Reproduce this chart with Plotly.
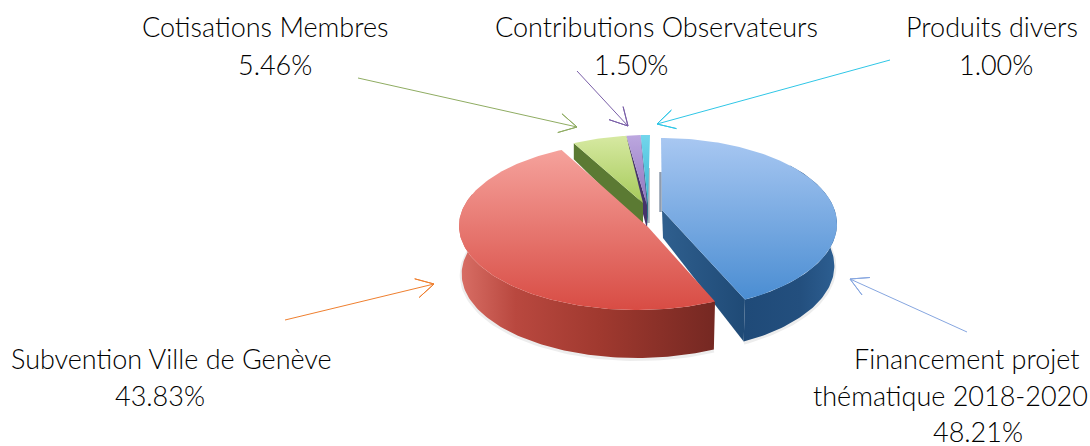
import numpy as np
import plotly.graph_objects as go

# ---- data ----
categories = ["Financement projet thématique 2018-2020", "Subvention Ville de Genève",
              "Cotisations Membres", "Contributions Observateurs", "Produits divers"]
values = [48.21, 43.83, 5.46, 1.50, 1.00]

# ---- geometry / style (per slice: ellipse centre, radii, tip, warp, depth) ----
GEO = {
    0: dict(cx=661, cy=224, a=176, b=86, tip=(662, 210), warp=21.0, depth=42),
    1: dict(cx=637, cy=226, a=178, b=84, tip=(648, 227), warp=18.5, depth=48),
    2: dict(cx=650, cy=222, a=180, b=87, tip=(643, 203), warp=18.5, depth=16),
    3: dict(cx=650, cy=222, a=180, b=87, tip=(647, 205), warp=18.5, depth=16),
    4: dict(cx=650, cy=222, a=180, b=87, tip=(648, 203), warp=18.5, depth=16),
}
TOP = {
    0: ["#a9c8f2", "#4a8dd2"], 1: ["#f6a49e", "#d84c44"], 2: ["#d8eaa4", "#a6ca5a"],
    3: ["#bda8e0", "#8f74bd"], 4: ["#74d6ec", "#38b6d2"],
}


def warp(t, amount):
    r = np.radians(t)
    return t - amount * (1 - np.cos(r)) / 2 - 9.9 * np.sin(r)


def rim(i, t):
    g = GEO[i]
    u = np.radians(warp(t, g["warp"]))
    return g["cx"] + g["a"] * np.sin(u), g["cy"] - g["b"] * np.cos(u)


def drop(i, x, y):
    g = GEO[i]
    return g["cx"] + (x - g["cx"]) * 0.985, y + g["depth"]


fig = go.Figure()


def poly(xs, ys, fillcolor=None, grad=None):
    kw = dict(x=list(xs), y=list(ys), mode="lines", fill="toself", line=dict(width=0),
              hoverinfo="skip", showlegend=False)
    if grad:
        kw["fillgradient"] = grad
    else:
        kw["fillcolor"] = fillcolor
    fig.add_trace(go.Scatter(**kw))


def vgrad(c0, c1, y0, y1):
    return dict(type="vertical", colorscale=[[0, c0], [1, c1]], start=y0, stop=y1)


def hgrad(stops, x0, x1):
    return dict(type="horizontal", colorscale=stops, start=x0, stop=x1)


cum = np.concatenate([[0], np.cumsum(values)]) / sum(values) * 360

# soft shadow below the pie
for i, t0, t1 in ((1, cum[1], 285), (0, 70, cum[1])):
    ts = np.linspace(t0, t1, 80)
    x, y = rim(i, ts)
    bx, by = drop(i, x, y)
    fig.add_trace(go.Scatter(x=bx, y=by + 1, mode="lines", hoverinfo="skip", showlegend=False,
                             line=dict(color="rgba(130,130,130,0.14)", width=4)))

# thin grey slivers of the hidden inner walls
for sx, tip, up, down, c in ((GEO[4]["tip"][0] + 0.5, GEO[4]["tip"], 35, 20, "#a9b2bc"),
                             (GEO[0]["tip"][0] - 1.5, GEO[0]["tip"], 38, 2, "#8e9bad")):
    fig.add_trace(go.Scatter(x=[sx, sx], y=[tip[1] - up, tip[1] + down], mode="lines",
                             hoverinfo="skip", showlegend=False, line=dict(color=c, width=2.5)))

# small slices, back first
wall_cols = {2: "#5b7a33", 3: "#46346b", 4: "#2c6f85"}
for i in (4, 3, 2):
    sx, sy = rim(i, cum[i])
    tipx, tipy = GEO[i]["tip"]
    poly([sx, tipx, tipx, sx], [sy, tipy, tipy + 24, sy + GEO[i]["depth"]], fillcolor=wall_cols[i])

for i in (4, 3, 2):
    ts = np.linspace(cum[i], cum[i + 1], 30)
    x, y = rim(i, ts)
    tipx, tipy = GEO[i]["tip"]
    poly(np.r_[tipx, x], np.r_[tipy, y], grad=vgrad(TOP[i][0], TOP[i][1], 134, tipy))

# blue slice
i = 0
ts = np.linspace(cum[0], cum[1], 140)
x, y = rim(i, ts)
tipx, tipy = GEO[i]["tip"]
wx, wy = x[ts > 60], y[ts > 60]
bx, by = drop(i, wx, wy)
poly(np.r_[wx, bx[::-1]], np.r_[wy, by[::-1]],
     grad=hgrad([[0, "#1f4a78"], [0.6, "#234f7e"], [1, "#2d5f92"]], wx.min(), wx.max()))
ex, ey = x[-1], y[-1]
ebx, eby = drop(i, ex, ey)
poly([tipx, ex, ebx, tipx + 1], [tipy, ey, eby, tipy + 28],
     grad=hgrad([[0, "#2f5f8e"], [1, "#1f4a76"]], tipx, ex))
poly(np.r_[tipx, x], np.r_[tipy, y], grad=vgrad(TOP[0][0], TOP[0][1], 136, 300))

# red slice
i = 1
ts = np.linspace(cum[1], cum[2], 140)
x, y = rim(i, ts)
tipx, tipy = GEO[i]["tip"]
mask = ts < 290
wx, wy = x[mask], y[mask]
bx, by = drop(i, wx, wy)
poly(np.r_[wx, bx[::-1]], np.r_[wy, by[::-1]],
     grad=hgrad([[0, "#d96f66"], [0.22, "#b9483f"], [0.55, "#a0392f"], [1, "#752822"]], wx.min(), wx.max()))
poly(np.r_[tipx, x], np.r_[tipy, y], grad=vgrad(TOP[1][0], TOP[1][1], 146, 310))

# leader arrows
ARROWS = [
    (358, 78, 577, 127, "#8fac62"),
    (577, 71, 628, 126, "#7a5fa8"),
    (890, 60, 657, 124, "#2fc6e6"),
    (285, 320, 434, 284, "#ef7f2f"),
    (967, 332, 850, 279, "#86a6e0"),
]
for x0, y0, x1, y1, c in ARROWS:
    ang = np.arctan2(y0 - y1, x0 - x1)
    xs, ys = [x0, x1], [y0, y1]
    for s in (-1, 1):
        xs += [x1 + 20 * np.cos(ang + s * 0.5), x1]
        ys += [y1 + 20 * np.sin(ang + s * 0.5), y1]
    fig.add_trace(go.Scatter(x=xs, y=ys, mode="lines", hoverinfo="skip", showlegend=False,
                             line=dict(color=c, width=1)))

# labels
pct = [f"{v:.2f}%" for v in values]
TEXTS = [
    ("Financement projet", 967, 358), ("thématique 2018-2020", 950, 395), (pct[0], 978, 431),
    (categories[1], 171, 358), (pct[1], 160, 395),
    (categories[2], 265, 26), (pct[2], 275, 64),
    (categories[3], 656, 26), (pct[3], 631, 64),
    (categories[4], 992, 26), (pct[4], 996, 64),
]
for txt, x, y in TEXTS:
    fig.add_annotation(x=x, y=y, text=txt, showarrow=False, xanchor="center", yanchor="middle",
                       font=dict(family="Lato", size=27, color="#000000", weight=300))

fig.update_layout(width=1090, height=446, margin=dict(l=0, r=0, t=0, b=0),
                  paper_bgcolor="white", plot_bgcolor="white",
                  xaxis=dict(range=[0, 1090], visible=False),
                  yaxis=dict(range=[446, 0], visible=False))
fig.write_html("out.html", config=dict(displayModeBar=False),
               post_script="document.body.style.margin='0';document.body.style.overflow='hidden';")
